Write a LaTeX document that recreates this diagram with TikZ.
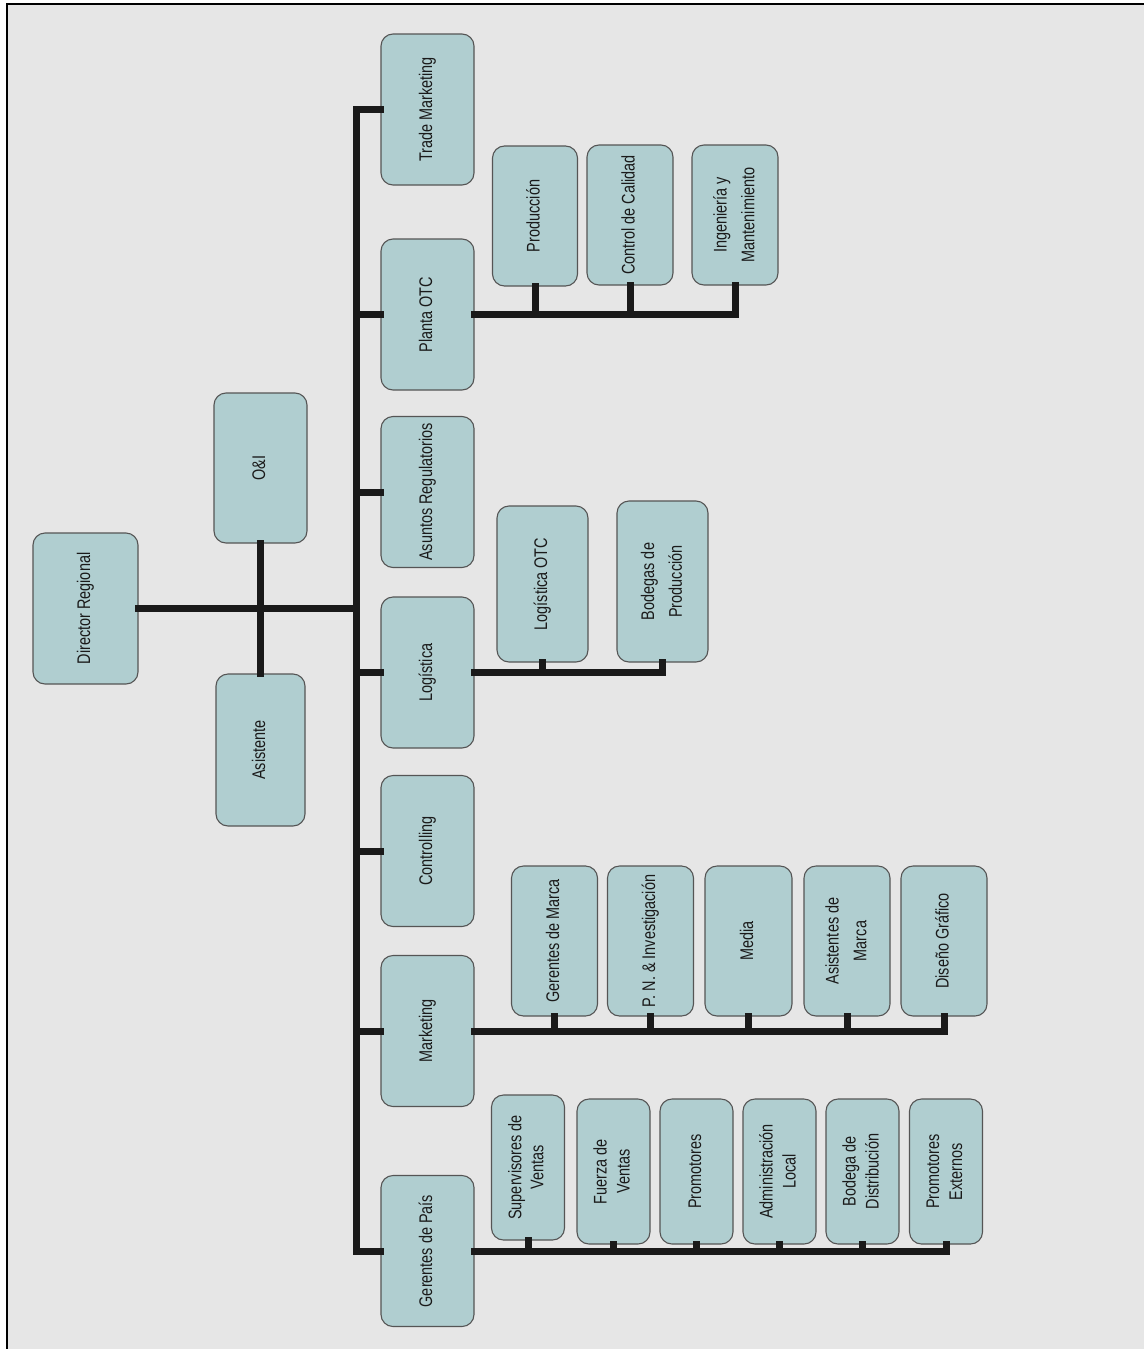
\documentclass[tikz,border=0pt]{standalone}
\usepackage{fontspec}
\usepackage{graphicx}
\setmainfont[FakeStretch=0.79]{Liberation Sans}
\definecolor{bgc}{RGB}{230,230,230}
\definecolor{boxc}{RGB}{176,206,208}
\definecolor{linec}{RGB}{26,26,26}
\definecolor{edgec}{RGB}{85,85,85}
\newcommand\rtx[2][1]{\rotatebox{90}{\renewcommand\arraystretch{#1}\begin{tabular}{@{}c@{}}#2\end{tabular}}}
\tikzset{
  orgbox/.style={draw=edgec, line width=1.1pt, fill=boxc, rounded corners=12pt,
    inner sep=0pt, text=linec, font=\fontsize{18.3}{23}\selectfont},
  conn/.style={draw=linec, line width=7pt, line cap=rect}
}
\begin{document}
\begin{tikzpicture}[x=1pt,y=-1pt]
\useasboundingbox (0,0) rectangle (1144,1349);
\fill[white] (0,0) rectangle (1144,1349);
\fill[bgc] (7,4) rectangle (1144,1349);
\draw[black, line width=2pt] (7,1349) -- (7,4) -- (1144,4);

% top level
\node[orgbox, minimum width=105pt, minimum height=151pt] (dir) at (85.5,608.5) {\rtx{Director Regional}};
\node[orgbox, minimum width=93pt, minimum height=150pt] (oi) at (260.5,468) {\rtx{O\&I}};
\node[orgbox, minimum width=89pt, minimum height=152pt] (asis) at (260.5,750) {\rtx{Asistente}};

% main column
\foreach \nm/\cy/\tx in {trade/109.5/Trade Marketing, planta/314.5/Planta OTC, asuntos/492/Asuntos Regulatorios,
  logis/672.5/Logística, contr/851/Controlling, mark/1031/Marketing, pais/1251/Gerentes de País}
  \node[orgbox, minimum width=93pt, minimum height=151pt] (\nm) at (427.5,\cy) {\rtx{\tx}};

% Planta OTC children
\node[orgbox, minimum width=85pt, minimum height=140pt] (prod) at (535,216) {\rtx{Producción}};
\node[orgbox, minimum width=86pt, minimum height=140pt] (calid) at (630,215) {\rtx{Control de Calidad}};
\node[orgbox, minimum width=86pt, minimum height=140pt] (ing) at (735,215) {\rtx[1.2]{Ingeniería y\\Mantenimiento}};

% Logistica children
\node[orgbox, minimum width=91pt, minimum height=156pt] (lotc) at (542.5,584) {\rtx{Logística OTC}};
\node[orgbox, minimum width=91pt, minimum height=161pt] (bodp) at (662.5,581.5) {\rtx[1.2]{Bodegas de\\Producción}};

% Marketing children
\node[orgbox, minimum width=86pt, minimum height=150pt] (gmar) at (554.5,941) {\rtx{Gerentes de Marca}};
\node[orgbox, minimum width=86pt, minimum height=150pt] (pni) at (650.5,941) {\rtx{P. N. \& Investigación}};
\node[orgbox, minimum width=87pt, minimum height=150pt] (media) at (748.5,941) {\rtx{Media}};
\node[orgbox, minimum width=86pt, minimum height=150pt] (amar) at (847,941) {\rtx[1.2]{Asistentes de\\Marca}};
\node[orgbox, minimum width=86pt, minimum height=150pt] (disg) at (944,941) {\rtx{Diseño Gráfico}};

% Gerentes de Pais children
\node[orgbox, minimum width=73pt, minimum height=145pt] (supv) at (528,1167.5) {\rtx[0.95]{Supervisores de\\Ventas}};
\node[orgbox, minimum width=73pt, minimum height=145pt] (fuer) at (613.5,1171.5) {\rtx{Fuerza de\\Ventas}};
\node[orgbox, minimum width=73pt, minimum height=145pt] (prom) at (696.5,1171.5) {\rtx{Promotores}};
\node[orgbox, minimum width=73pt, minimum height=145pt] (adml) at (779.5,1171.5) {\rtx{Administración\\Local}};
\node[orgbox, minimum width=73pt, minimum height=145pt] (bodd) at (862.5,1171.5) {\rtx{Bodega de\\Distribución}};
\node[orgbox, minimum width=73pt, minimum height=145pt] (pext) at (946,1171.5) {\rtx{Promotores\\Externos}};

% connectors
\coordinate (tbot) at (356,1251);
\draw[conn] (trade.west) -| (tbot) -- (pais.west);
\foreach \n in {planta,asuntos,logis,contr,mark}
  \draw[conn] (\n.west) -- (\n.west -| tbot);
\draw[conn] (dir.east) -- (dir.east -| tbot);
\draw[conn] (oi.south) -- (asis.north);

\draw[conn] (planta.east) -| (ing.south);
\foreach \n in {prod,calid} \draw[conn] (\n.south) -- (\n.south |- planta.east);

\draw[conn] (logis.east) -| (bodp.south);
\draw[conn] (lotc.south) -- (lotc.south |- logis.east);

\draw[conn] (mark.east) -| (disg.south);
\foreach \n in {gmar,pni,media,amar} \draw[conn] (\n.south) -- (\n.south |- mark.east);

\draw[conn] (pais.east) -| (pext.south);
\foreach \n in {supv,fuer,prom,adml,bodd} \draw[conn] (\n.south) -- (\n.south |- pais.east);
\end{tikzpicture}
\end{document}
